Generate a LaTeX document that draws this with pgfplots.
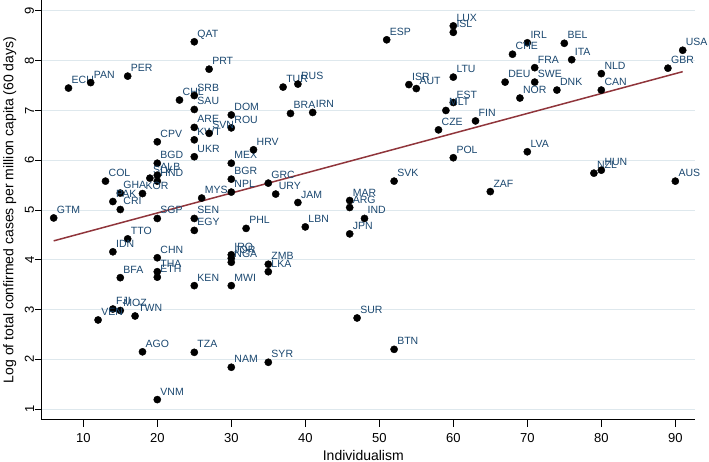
\documentclass[border=0pt]{standalone}
\usepackage{fontspec}
\setmainfont{Liberation Sans}
\usepackage{graphicx}
\usepackage{pgfplots}
\usepackage{pgfplotstable}
\pgfplotsset{compat=1.18}
\definecolor{stnavy}{RGB}{26,71,111}
\definecolor{stmaroon}{RGB}{144,53,59}
\definecolor{stgrid}{RGB}{222,232,237}
\pgfplotstableread{
x y lab
8 7.45 ECU
11 7.56 PAN
16 7.69 PER
25 8.38 QAT
27 7.83 PRT
23 7.21 CHL
25 7.30 SRB
25 7.02 SAU
30 6.91 DOM
30 6.65 ROU
25 6.66 ARE
25 6.41 KWT
27 6.54 SVN
20 6.37 CPV
25 6.07 UKR
20 5.94 BGD
30 5.94 MEX
19 5.64 SLV
20 5.70 ALB
20 5.58 HND
13 5.58 COL
15 5.34 GHA
18 5.33 KOR
14 5.17 PAK
15 5.01 CRI
6 4.84 GTM
20 4.83 SGP
25 4.83 SEN
25 4.59 EGY
16 4.42 TTO
26 5.24 MYS
30 5.62 BGR
30 5.36 NPL
35 5.54 GRC
36 5.32 URY
33 6.21 HRV
39 5.15 JAM
46 5.19 MAR
46 5.05 ARG
52 5.58 SVK
48 4.83 IND
32 4.63 PHL
40 4.66 LBN
46 4.52 JPN
37 7.47 TUR
39 7.53 RUS
38 6.94 BRA
41 6.96 IRN
51 8.42 ESP
60 8.57 ISL
60 8.70 LUX
54 7.52 ISR
55 7.44 AUT
60 7.67 LTU
60 7.16 EST
59 7.00 MLT
58 6.61 CZE
60 6.05 POL
63 6.79 FIN
70 8.36 IRL
75 8.35 BEL
68 8.13 CHE
76 8.02 ITA
91 8.21 USA
89 7.85 GBR
71 7.86 FRA
80 7.74 NLD
67 7.57 DEU
71 7.57 SWE
74 7.41 DNK
80 7.41 CAN
69 7.25 NOR
70 6.17 LVA
79 5.74 NZL
80 5.80 HUN
65 5.37 ZAF
90 5.58 AUS
14 4.16 IDN
20 4.04 CHN
20 3.76 THA
20 3.65 ETH
15 3.64 BFA
25 3.48 KEN
30 3.48 MWI
30 4.10 IRQ
30 4.03 JOR
30 3.95 NGA
35 3.91 ZMB
35 3.76 LKA
14 3.01 FJI
15 2.98 MOZ
12 2.79 VEN
17 2.87 TWN
18 2.15 AGO
25 2.14 TZA
47 2.83 SUR
52 2.20 BTN
35 1.94 SYR
30 1.84 NAM
20 1.19 VNM
}\countries
\begin{document}
\begin{tikzpicture}
\begin{axis}[
  scale only axis,
  width=653.3bp, height=420bp,
  xmin=4.38, xmax=92.66, ymin=0.78, ymax=9.22,
  axis x line*=bottom, axis y line*=left,
  axis line style={black, line width=1bp},
  xtick={10,20,...,90}, ytick={1,2,...,9},
  tick align=outside, major tick length=7bp,
  tick style={black, line width=0.9bp},
  ymajorgrids, grid style={stgrid, line width=0.9bp},
  /pgf/number format/assume math mode=true,
  xticklabel style={anchor=north, inner sep=0pt, yshift=-6.5bp, font=\fontsize{13bp}{15bp}\selectfont},
  yticklabel={\rotatebox{90}{\pgfmathprintnumber[fixed,precision=0]{\tick}}},
  yticklabel style={anchor=east, inner sep=0pt, xshift=-0.5bp, font=\fontsize{13bp}{15bp}\selectfont},
  xlabel={Individualism},
  ylabel={Log of total confirmed cases per million capita (60 days)},
  xlabel style={at={(axis description cs:0.4923,-0.0714)}, anchor=north, inner sep=0pt, font=\fontsize{14bp}{16bp}\selectfont},
  ylabel style={at={(axis description cs:-0.0386,0.5)}, rotate=0, anchor=south, inner sep=0pt, font=\fontsize{14bp}{16bp}\selectfont},
  clip=false,
]
\coordinate (bl) at (rel axis cs:0,0);
\addplot[only marks, mark=*, mark size=3.6bp, mark options={fill=black, draw=black},
  point meta=explicit symbolic,
  nodes near coords,
  every node near coord/.append style={anchor=base west, inner sep=0pt, xshift=3bp, yshift=4.5bp, text=stnavy, font=\fontsize{10.5bp}{12bp}\selectfont}
] table[x=x, y=y, meta=lab] {\countries};
\addplot[stmaroon, line width=1.5bp] coordinates {(6,4.38) (91,7.78)};
\end{axis}
\pgfresetboundingbox
\path[use as bounding box] ([shift={(-41.7bp,-42bp)}]bl) rectangle ([shift={(667.3bp,420bp)}]bl);
\end{tikzpicture}
\end{document}
